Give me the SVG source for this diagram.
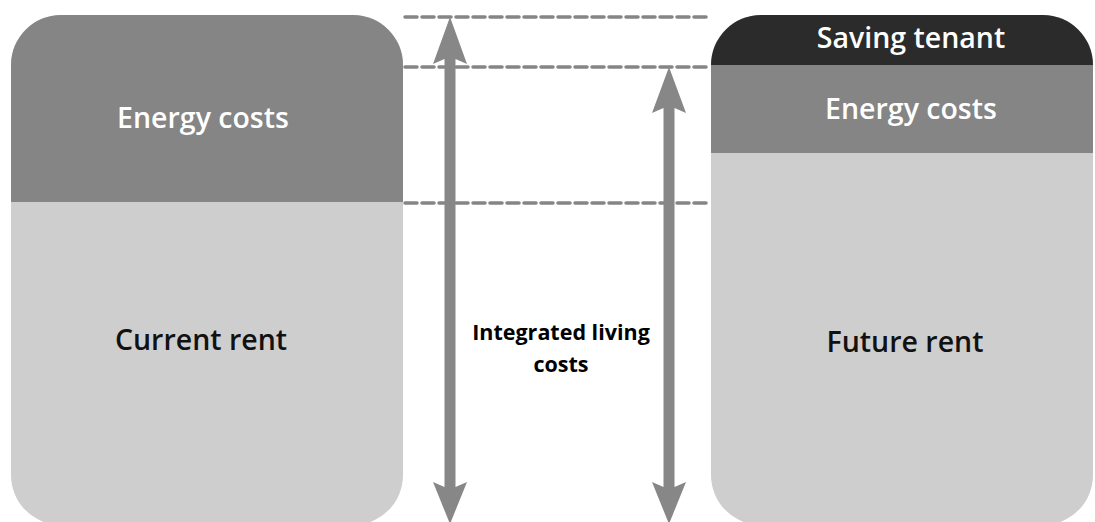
<svg xmlns="http://www.w3.org/2000/svg" width="1095" height="522" viewBox="0 0 1095 522">
<style>
.lbl{font-family:"Open Sans","Noto Sans","Liberation Sans",sans-serif;font-size:28.5px;font-weight:600;text-anchor:middle}
.w{fill:#ffffff}
.k{fill:#111111}
.mid{font-family:"Open Sans","Noto Sans","Liberation Sans",sans-serif;font-size:21.5px;font-weight:700;text-anchor:middle;fill:#000000}
.dash{stroke:#858585;stroke-width:3.5;stroke-dasharray:12 5;stroke-linecap:round;fill:none}
.arrow{fill:#878787}
.light{fill:#cecece}
.mido{fill:#858585}
.dark{fill:#2b2b2b}
</style>
<defs>
<clipPath id="clipL"><rect x="11" y="15" width="392" height="510" rx="50" ry="50"/></clipPath>
<clipPath id="clipR"><rect x="711" y="15" width="382" height="510" rx="50" ry="50"/></clipPath>
</defs>
<rect width="1095" height="522" fill="#ffffff"/>
<g id="connectors">
<line class="dash" x1="405" y1="17" x2="708" y2="17"/>
<line class="dash" x1="405" y1="67" x2="708" y2="67"/>
<line class="dash" x1="405" y1="203" x2="708" y2="203"/>
<path class="arrow" d="M450,17 L467,64 L455.5,59 L455.5,487 L467,482 L450,524 L433,482 L444.5,487 L444.5,59 L433,64 Z"/>
<path class="arrow" d="M669,67 L686,113 L674.5,108 L674.5,487 L686,482 L669,524 L652,482 L663.5,487 L663.5,108 L652,113 Z"/>
</g>
<g id="current">
<g clip-path="url(#clipL)">
<rect class="light" x="11" y="15" width="392" height="510"/>
<rect class="mido" x="11" y="15" width="392" height="187"/>
</g>
<text class="lbl w" x="203" y="128">Energy costs</text>
<text class="lbl k" x="201" y="350">Current rent</text>
</g>
<g id="future">
<g clip-path="url(#clipR)">
<rect class="light" x="711" y="15" width="382" height="510"/>
<rect class="mido" x="711" y="65" width="382" height="88"/>
<rect class="dark" x="711" y="15" width="382" height="50"/>
</g>
<text class="lbl w" x="911" y="48">Saving tenant</text>
<text class="lbl w" x="911" y="119">Energy costs</text>
<text class="lbl k" x="905" y="352">Future rent</text>
</g>
<g id="integrated">
<text class="mid" x="561" y="340">Integrated living</text>
<text class="mid" x="561" y="372">costs</text>
</g>
</svg>
